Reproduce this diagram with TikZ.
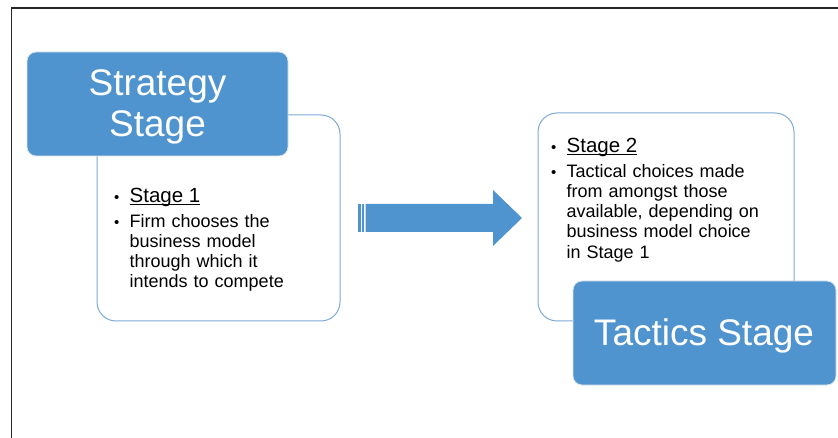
\documentclass[tikz,border=0pt]{standalone}
\usepackage{fontspec}
\setmainfont{Liberation Sans}
\definecolor{stageblue}{RGB}{79,148,206}
\definecolor{stageedge}{RGB}{222,228,236}
\definecolor{panelline}{RGB}{125,170,214}
% underline that sits just under the baseline, as in slide software
\newcommand{\stageul}[1]{\setbox0\hbox{#1}\rlap{\rule[-2.3pt]{\wd0}{1.1pt}}\box0}
\begin{document}
\begin{tikzpicture}[x=1pt,y=-1pt,
  panel/.style={draw=panelline, line width=1pt, fill=white, rounded corners=19pt,
    inner sep=0pt, outer sep=0pt},
  stagebox/.style={draw=stageedge, line width=0.8pt, fill=stageblue, rounded corners=9pt,
    inner sep=0pt, outer sep=0pt},
  title/.style={text=white, inner sep=0pt, font=\fontsize{37}{41}\selectfont, align=center},
  bullet/.style={inner sep=0pt, anchor=base west, font=\fontsize{15}{17}\selectfont},
  heading/.style={inner sep=0pt, anchor=base west, font=\fontsize{20.5}{24}\selectfont},
  body/.style={inner sep=0pt, anchor=base west, text width=215pt, align=left,
    font=\fontsize{18}{20.2}\selectfont},
  frameline/.style={line width=1.6pt, draw=black!85}]

\useasboundingbox (0,0) rectangle (838,438);

% outer frame: top and left edges only
\draw[frameline] (838,8) -- (11.5,8) -- (11.5,438);

% stage one panel and its title tab
\node[panel, minimum width=243pt, minimum height=206pt] (panelA) at (218.5,218) {};
\node[stagebox, minimum width=261pt, minimum height=104pt] (strategy) at (157.5,104) {};
\node[title, text width=250pt, anchor=base] (strategyText) at (157.5,96) {Strategy\\Stage};

\node[bullet] (bulA1) at (114,203) {\textbullet};
\node[heading] (headA) at (129.5,203) {\stageul{Stage 1}};
\node[bullet] (bulA2) at (114,227.3) {\textbullet};
\node[body] (bodyA) at (129.5,227.3) {Firm chooses the\\business model\\through which it\\intends to compete};

% block arrow between the two stages
\fill[stageblue] (358,204) rectangle (360.5,232);
\fill[stageblue] (362,204) rectangle (364,232);
\fill[stageblue] (365.5,204) -- (493,204) -- (493,190) -- (522,218) -- (493,246)
  -- (493,232) -- (365.5,232) -- cycle;

% stage two panel and its title tab
\node[panel, minimum width=256pt, minimum height=208pt] (panelB) at (666,217) {};
\node[stagebox, minimum width=263pt, minimum height=104pt] (tactics) at (704.5,333) {};
\node[title, anchor=base] (tacticsText) at (704,345) {Tactics Stage};

\node[bullet] (bulB1) at (551,152.7) {\textbullet};
\node[heading] (headB) at (566.5,152.7) {\stageul{Stage 2}};
\node[bullet] (bulB2) at (551,177.3) {\textbullet};
\node[body] (bodyB) at (566.5,177.3) {Tactical choices made\\from amongst those\\available, depending on\\business model choice\\in Stage 1};
\end{tikzpicture}
\end{document}
